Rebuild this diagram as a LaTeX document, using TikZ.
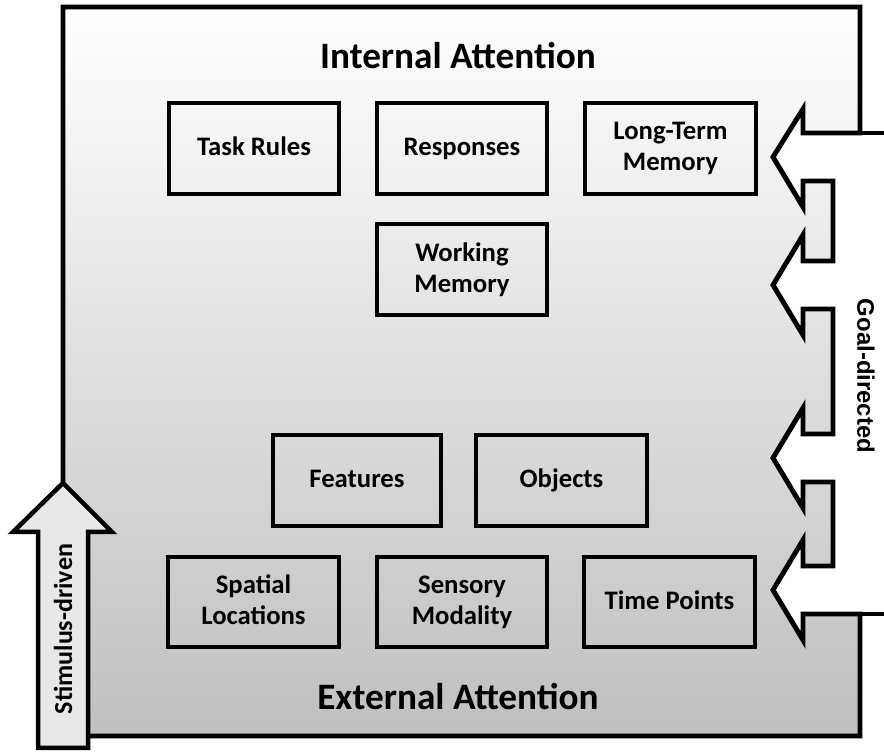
\documentclass[tikz,border=0pt]{standalone}
\usepackage{fontspec}
\setmainfont{Carlito}
\newfontfamily\goalfont{Liberation Sans}
\begin{document}
\begin{tikzpicture}[x=0.025cm,y=-0.025cm,
		box/.style={draw,line width=2.85pt,minimum width=#1,minimum height=2.27cm,inner sep=0pt,align=center,font=\bfseries\fontsize{19}{22}\selectfont,execute at end node={\vphantom{y}}},
		box/.default=4.27cm,
		title/.style={font=\bfseries\fontsize{26.5}{30}\selectfont},
		edge/.style={line width=3.5pt,line join=miter}]
		\useasboundingbox (0,0) rectangle (884,753);
		\fill[white] (0,0) rectangle (884,753);
		\path[edge,draw,top color=white,bottom color=black!25] (63,7) -- (860,7) -- (860,133) -- (803,133) -- (803,109) -- (773,157) -- (803,207) -- (803,181) -- (833,181) -- (833,261) -- (803,261) -- (803,235) -- (773,285) -- (803,335) -- (803,309) -- (833,309) -- (833,434) -- (803,434) -- (803,408) -- (773,458) -- (803,508) -- (803,482) -- (833,482) -- (833,566) -- (803,566) -- (803,540) -- (773,590) -- (803,640) -- (803,614) -- (860,614) -- (860,736) -- (63,736) -- cycle;
		\draw[edge] (858,133) -- (890,133);
		\draw[edge] (858,614) -- (890,614);
		\node[title] (internal) at (458,56) {Internal Attention};
		\node[title] (external) at (458,697) {External Attention};
		\node[box] (taskrules) at (254,148.5) {Task Rules};
		\node[box] (responses) at (462,148.5) {Responses};
		\node[box] (ltm) at (670.5,148.5) {Long-Term\\Memory};
		\node[box] (wm) at (462,269.5) {Working\\Memory};
		\node[box=4.2cm] (features) at (357,480.5) {Features};
		\node[box] (objects) at (561.5,480.5) {Objects};
		\node[box] (spatial) at (253.5,602) {Spatial\\Locations};
		\node[box] (sensory) at (462,602) {Sensory\\Modality};
		\node[box] (timepoints) at (669.5,602) {Time Points};
		\node[rotate=-90,font=\goalfont\bfseries\fontsize{17}{20}\selectfont] (goal) at (866,376) {Goal-directed};
		\draw[line width=3.2pt,line join=miter,fill=black!9] (63,483) -- (112,532) -- (88,532) -- (88,748) -- (38,748) -- (38,532) -- (13,532) -- cycle;
		\node[rotate=90,font=\bfseries\fontsize{18.5}{22}\selectfont] (stimulus) at (63,629) {Stimulus-driven};
	\end{tikzpicture}
\end{document}
